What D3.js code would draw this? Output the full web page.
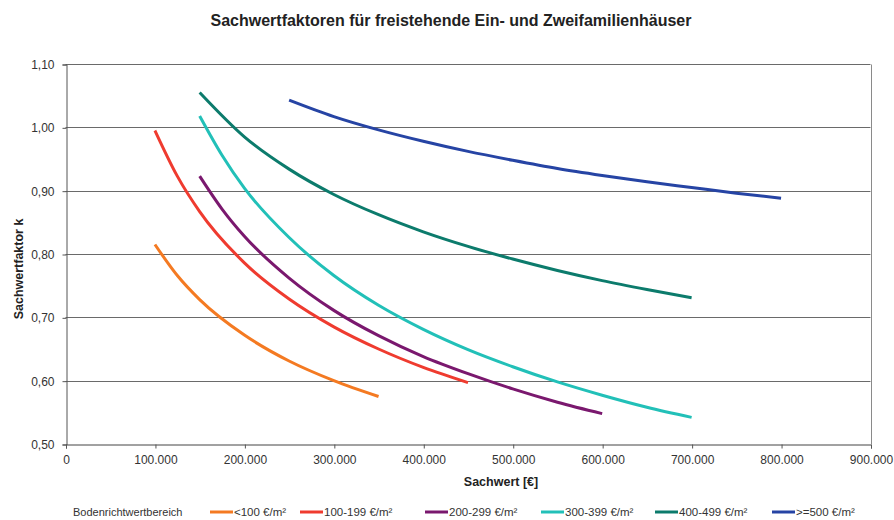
<!DOCTYPE html>
<html>
<head>
<meta charset="utf-8">
<script src="https://cdn.jsdelivr.net/npm/d3@7"></script>
<style>
  html, body { margin: 0; padding: 0; background: #fff; }
  svg { display: block; font-family: "Liberation Sans", Arial, sans-serif; }
</style>
</head>
<body>
<svg id="chart" width="894" height="520"></svg>
<script>
// ---- data ----
const title = "Sachwertfaktoren für freistehende Ein- und Zweifamilienhäuser";
const xTitle = "Sachwert [€]";
const yTitle = "Sachwertfaktor k";
const legendTitle = "Bodenrichtwertbereich";
const seriesNames = ["<100 €/m²", "100-199 €/m²", "200-299 €/m²", "300-399 €/m²", "400-499 €/m²", ">=500 €/m²"];
const xTicks = [0, 100000, 200000, 300000, 400000, 500000, 600000, 700000, 800000, 900000];
const xTickLabels = ["0", "100.000", "200.000", "300.000", "400.000", "500.000", "600.000", "700.000", "800.000", "900.000"];
const yTicks = [0.5, 0.6, 0.7, 0.8, 0.9, 1.0, 1.1];
const yTickLabels = ["0,50", "0,60", "0,70", "0,80", "0,90", "1,00", "1,10"];

const s1x = [100000, 125000, 150000, 200000, 250000, 300000, 350000];
const s1y = [0.815, 0.766, 0.728, 0.672, 0.631, 0.600, 0.575];
const s2x = [100000, 125000, 150000, 200000, 250000, 300000, 350000, 400000, 450000];
const s2y = [0.995, 0.923, 0.867, 0.786, 0.729, 0.685, 0.650, 0.621, 0.597];
const s3x = [150000, 175000, 200000, 250000, 300000, 350000, 400000, 450000, 500000, 550000, 600000];
const s3y = [0.923, 0.871, 0.828, 0.762, 0.711, 0.671, 0.638, 0.611, 0.587, 0.566, 0.548];
const s4x = [150000, 175000, 200000, 250000, 300000, 350000, 400000, 450000, 500000, 550000, 600000, 650000, 700000];
const s4y = [1.018, 0.956, 0.904, 0.826, 0.766, 0.719, 0.681, 0.649, 0.622, 0.598, 0.577, 0.558, 0.542];
const s5x = [150000, 200000, 250000, 300000, 350000, 400000, 450000, 500000, 550000, 600000, 650000, 700000];
const s5y = [1.055, 0.985, 0.934, 0.894, 0.862, 0.835, 0.812, 0.792, 0.774, 0.758, 0.744, 0.731];
const s6x = [250000, 300000, 350000, 400000, 450000, 500000, 550000, 600000, 650000, 700000, 750000, 800000];
const s6y = [1.043, 1.017, 0.996, 0.978, 0.962, 0.948, 0.935, 0.924, 0.914, 0.905, 0.896, 0.888];

// ---- styles / layout ----
const colors = ["#f47a22", "#ef3b2f", "#7a186e", "#22c0b8", "#0c7b6c", "#2644a4"];
const legendX = [210, 300, 425, 541, 655, 772];
const margin = { left: 65.5, right: 870.5, top: 64, bottom: 444 };

const svg = d3.select("#chart");

const x = d3.scaleLinear().domain([0, 900000]).range([margin.left, margin.right]);
const y = d3.scaleLinear().domain([0.5, 1.1]).range([margin.bottom, margin.top]);

// title
svg.append("text")
  .attr("x", 451).attr("y", 26)
  .attr("text-anchor", "middle")
  .attr("font-size", "16px").attr("font-weight", "bold")
  .attr("fill", "#222")
  .text(title);

// gridlines
const grid = svg.append("g");
grid.selectAll("line").data(yTicks.slice(1)).join("line")
  .attr("x1", margin.left).attr("x2", margin.right)
  .attr("y1", d => Math.round(y(d)) + 0.5).attr("y2", d => Math.round(y(d)) + 0.5)
  .attr("stroke", "#6a6a6a").attr("stroke-width", 1);

// right border
svg.append("line")
  .attr("x1", Math.round(margin.right) + 0.5).attr("x2", Math.round(margin.right) + 0.5)
  .attr("y1", Math.round(margin.top) + 0.5).attr("y2", margin.bottom)
  .attr("stroke", "#8a8a8a");

// y axis
const yAxis = d3.axisLeft(y).tickValues(yTicks)
  .tickFormat((d, i) => yTickLabels[i]).tickSize(4).tickPadding(8);
const gy = svg.append("g")
  .attr("transform", `translate(${Math.round(margin.left) + 0.5},0.5)`)
  .call(yAxis);
gy.select(".domain").attr("stroke", "#555");
gy.selectAll(".tick line").attr("stroke", "#555");
gy.selectAll(".tick text").attr("font-size", "12px").attr("fill", "#333")
  .attr("font-family", "Liberation Sans, Arial, sans-serif");

// x axis
const xAxis = d3.axisBottom(x).tickValues(xTicks)
  .tickFormat((d, i) => xTickLabels[i]).tickSize(4).tickPadding(7);
const gx = svg.append("g")
  .attr("transform", `translate(0.5,${Math.round(margin.bottom) + 0.5})`)
  .call(xAxis);
gx.select(".domain").attr("stroke", "#444");
gx.selectAll(".tick line").attr("stroke", "#555");
gx.selectAll(".tick text").attr("font-size", "12px").attr("fill", "#333")
  .attr("font-family", "Liberation Sans, Arial, sans-serif");

// axis titles
svg.append("text")
  .attr("x", 501).attr("y", 486)
  .attr("text-anchor", "middle")
  .attr("font-size", "12.5px").attr("font-weight", "bold").attr("fill", "#222")
  .text(xTitle);

svg.append("text")
  .attr("transform", "translate(23,269) rotate(-90)")
  .attr("text-anchor", "middle")
  .attr("font-size", "12.5px").attr("font-weight", "bold").attr("fill", "#222")
  .text(yTitle);

// series
const seriesX = [s1x, s2x, s3x, s4x, s5x, s6x];
const seriesY = [s1y, s2y, s3y, s4y, s5y, s6y];
const line = d3.line().x(d => x(d[0])).y(d => y(d[1])).curve(d3.curveMonotoneX);
seriesNames.forEach((name, i) => {
  const pts = seriesX[i].map((v, j) => [v, seriesY[i][j]]);
  svg.append("path")
    .datum(pts)
    .attr("d", line)
    .attr("fill", "none")
    .attr("stroke", colors[i])
    .attr("stroke-width", 3)
    .attr("stroke-linecap", "butt")
    .attr("stroke-linejoin", "round");
});

// legend
const legY = 512;
svg.append("text")
  .attr("x", 73).attr("y", legY + 4)
  .attr("font-size", "11px").attr("fill", "#333")
  .text(legendTitle);
seriesNames.forEach((name, i) => {
  const g = svg.append("g").attr("transform", `translate(${legendX[i]},${legY})`);
  g.append("line").attr("x1", 0).attr("x2", 23).attr("y1", 0).attr("y2", 0)
    .attr("stroke", colors[i]).attr("stroke-width", 3);
  g.append("text").attr("x", 24).attr("y", 4)
    .attr("font-size", "11.5px").attr("fill", "#333")
    .text(name);
});
</script>
</body>
</html>
